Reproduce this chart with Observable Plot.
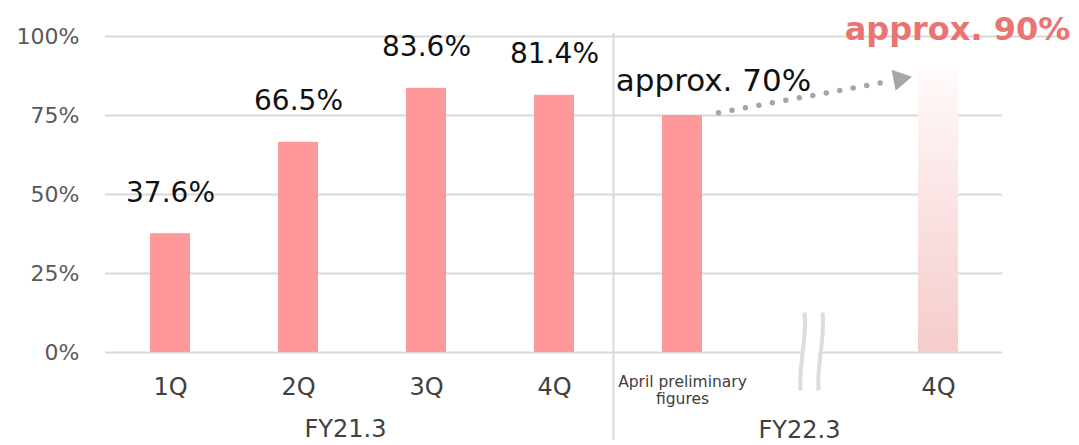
<!DOCTYPE html>
<html>
<head>
<meta charset="utf-8">
<script src="https://cdn.jsdelivr.net/npm/d3@7"></script>
<script src="https://cdn.jsdelivr.net/npm/@observablehq/plot@0.6"></script>
<style>
  html, body { margin: 0; padding: 0; background: #ffffff; }
  #chart svg { display: block; }
</style>
</head>
<body>
<div id="chart"></div>
<script>
// Slots along the x axis: four FY21.3 quarters, then FY22.3 (April, break, 4Q target)
const slots = ["FY21-1Q", "FY21-2Q", "FY21-3Q", "FY21-4Q", "FY22-Apr", "FY22-gap", "FY22-4Q"];
const quarterSlots = ["FY21-1Q", "FY21-2Q", "FY21-3Q", "FY21-4Q", "FY22-4Q"];
const quarterLabels = ["1Q", "2Q", "3Q", "4Q", "4Q"];
const aprilSlot = "FY22-Apr";
const aprilLabel = "April preliminary\nfigures";
const breakSlot = "FY22-gap";

// Measured rates (%)
const fy21Slots = ["FY21-1Q", "FY21-2Q", "FY21-3Q", "FY21-4Q"];
const fy21Rates = [37.6, 66.5, 83.6, 81.4];
const fy21RateLabels = ["37.6%", "66.5%", "83.6%", "81.4%"];

// FY22.3: April preliminary figure and the 4Q target
const aprilRate = 75;
const aprilRateLabel = "approx. 70%";
const targetSlot = "FY22-4Q";
const targetRate = 90;
const targetRateLabel = "approx. 90%";

// Fiscal-year group labels
const fiscalYears = ["FY21.3", "FY22.3"];
const fiscalYearAnchors = ["FY21-2Q", "FY22-gap"];

// Y axis ticks
const yTicks = [0, 25, 50, 75, 100];

const fy21 = fy21Slots.map((slot, i) => ({slot, rate: fy21Rates[i], label: fy21RateLabels[i]}));
const april = [{slot: aprilSlot, rate: aprilRate, label: aprilRateLabel}];
const target = [{slot: targetSlot, rate: targetRate, label: targetRateLabel}];
const quarterTicks = quarterSlots.map((slot, i) => ({slot, label: quarterLabels[i]}));
const fyLabels = fiscalYears.map((label, i) => ({slot: fiscalYearAnchors[i], label}));
const forecast = [{from: aprilSlot, to: targetSlot, fromRate: aprilRate, toRate: targetRate}];

const barColor = "#ff9999";
const gridColor = "#d9d9d9";
const arrowColor = "#a6a6a6";

// Wavy "break" glyph: two S-shaped strokes, with a white fill between them
function wave(ctx, x0, reverse) {
  if (!reverse) {
    ctx.moveTo(x0 + 2, -39);
    ctx.bezierCurveTo(x0 + 5, -14, x0 - 4, 12, x0 - 2, 39);
  } else {
    ctx.lineTo(x0 - 2, 39);
    ctx.bezierCurveTo(x0 - 4, 12, x0 + 5, -14, x0 + 2, -39);
  }
}
const breakFill = {
  draw(ctx) {
    wave(ctx, -8, false);
    wave(ctx, 10, true);
    ctx.closePath();
  }
};
const breakStrokes = {
  draw(ctx) {
    wave(ctx, -8, false);
    wave(ctx, 10, false);
  }
};

// Gradient for the target bar
const gradientDefs = () => {
  const defs = d3.create("svg:defs");
  const g = defs.append("linearGradient")
    .attr("id", "target-fade")
    .attr("x1", 0).attr("y1", 0).attr("x2", 0).attr("y2", 1);
  g.append("stop").attr("offset", "0%").attr("stop-color", "#fffafa");
  g.append("stop").attr("offset", "100%").attr("stop-color", "#f6cbcb");
  return defs.node();
};

const chart = Plot.plot({
  width: 1079,
  height: 445,
  marginLeft: 105,
  marginRight: 77,
  marginTop: 36,
  marginBottom: 93,
  style: {fontFamily: "DejaVu Sans", background: "#ffffff"},
  x: {domain: slots, paddingInner: 0.688, paddingOuter: 0.344, axis: null},
  y: {domain: [0, 100], axis: null},
  marks: [
    gradientDefs,
    // gridlines
    Plot.ruleY(yTicks.filter(d => d < 100), {stroke: gridColor, strokeWidth: 2}),
    Plot.ruleY([100], {stroke: gridColor, strokeWidth: 2, insetRight: -68}),
    // fiscal-year separator
    Plot.ruleX([aprilSlot], {
      stroke: gridColor, strokeWidth: 2, dx: -69,
      y1: 100, y2: 0, insetTop: -3, insetBottom: -88
    }),
    // y tick labels
    Plot.axisY(yTicks, {
      tickSize: 0, tickPadding: 26, fontSize: 22, fill: "#595959",
      tickFormat: d => d + "%", label: null
    }),
    // bars
    Plot.barY(fy21, {x: "slot", y: "rate", fill: barColor}),
    Plot.barY(april, {x: "slot", y: "rate", fill: barColor}),
    Plot.barY(target, {x: "slot", y: "rate", fill: "url(#target-fade)"}),
    // break glyph
    Plot.dot([breakSlot], {x: d => d, y: () => 0, dy: -1, r: 10, symbol: breakFill, fill: "#ffffff", stroke: "none"}),
    Plot.dot([breakSlot], {x: d => d, y: () => 0, dy: -1, r: 10, symbol: breakStrokes, fill: "none", stroke: "#dcdcdc", strokeWidth: 4}),
    // dotted forecast arrow
    Plot.arrow(forecast, {
      x1: "from", y1: "fromRate", x2: "to", y2: "toRate", dy: 4,
      bend: 0, headLength: 0, insetStart: 36.6, insetEnd: 55,
      stroke: arrowColor, strokeWidth: 5.5, strokeDasharray: "0 13.7", strokeLinecap: "round"
    }),
    Plot.dot(forecast, {
      x: "to", y: "toRate", dx: -38.8, dy: 11, r: 8,
      symbol: "triangle", rotate: 79.3, fill: arrowColor, stroke: "none"
    }),
    // value labels
    Plot.text(fy21, {x: "slot", y: "rate", text: "label", lineAnchor: "middle", dy: -41, fontSize: 28, fill: "#111111"}),
    Plot.text(april, {x: "slot", y: "rate", text: "label", lineAnchor: "middle", dx: 31, dy: -34.6, fontSize: 31, fill: "#111111"}),
    Plot.text(target, {x: "slot", y: "rate", text: "label", lineAnchor: "middle", dx: 19, dy: -38.8, fontSize: 32, fontWeight: "bold", fill: "#ea7472"}),
    // x tick labels
    Plot.text(quarterTicks, {x: "slot", y: () => 0, text: "label", lineAnchor: "middle", dy: 35.3, fontSize: 24, fill: "#404040"}),
    Plot.text([aprilLabel], {x: () => aprilSlot, y: () => 0, text: d => d, lineAnchor: "top", dy: 22, fontSize: 15.5, lineHeight: 1.1, fill: "#404040"}),
    // fiscal-year labels
    Plot.text(fyLabels.slice(0, 1), {x: "slot", y: () => 0, text: "label", lineAnchor: "middle", dx: 47, dy: 77, fontSize: 24, fill: "#404040"}),
    Plot.text(fyLabels.slice(1), {x: "slot", y: () => 0, text: "label", lineAnchor: "middle", dx: -11, dy: 78, fontSize: 24, fill: "#404040"})
  ]
});

document.getElementById("chart").append(chart);
</script>
</body>
</html>
